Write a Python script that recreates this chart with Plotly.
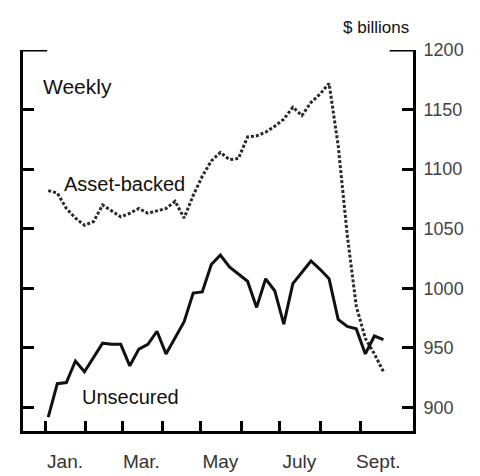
import pandas as pd
import plotly.graph_objects as go

# weekly observations, 2007 (Wednesdays)
weeks = pd.date_range("2007-01-03", periods=38, freq="7D")

asset_backed = [1082, 1080, 1067, 1059, 1053, 1056, 1070, 1065, 1060, 1063,
                1067, 1063, 1065, 1067, 1073, 1059, 1078, 1094, 1107, 1114,
                1108, 1109, 1127, 1128, 1131, 1136, 1142, 1152, 1145, 1156,
                1163, 1172, 1120, 1045, 985, 958, 945, 930]
unsecured = [892, 920, 921, 939, 930, 942, 954, 953, 953, 935,
             949, 953, 964, 945, 959, 972, 996, 997, 1020, 1028,
             1018, 1012, 1006, 984, 1008, 998, 970, 1004, 1014, 1023,
             1016, 1008, 974, 968, 966, 945, 960, 957]

month_starts = pd.date_range("2007-01-01", "2007-09-01", freq="MS")
label_dates = ["2007-01-16", "2007-03-16", "2007-05-16", "2007-07-16", "2007-09-15"]
label_text = ["Jan.", "Mar.", "May", "July", "Sept."]
y_ticks = [900, 950, 1000, 1050, 1100, 1150, 1200]

fig = go.Figure()
fig.add_trace(go.Scatter(x=weeks, y=asset_backed, mode="lines",
                         line=dict(color="#2a2a2a", width=3, dash="3px,2px")))
fig.add_trace(go.Scatter(x=weeks, y=unsecured, mode="lines",
                         line=dict(color="#111111", width=3)))

font = "Liberation Sans, Arial, sans-serif"

fig.update_layout(
    width=480, height=476,
    margin=dict(l=14, r=75, t=42, b=35),
    paper_bgcolor="white", plot_bgcolor="white",
    showlegend=False,
    font=dict(family=font, color="#222"),
    xaxis=dict(
        type="date",
        range=["2006-12-14 12:00", "2007-10-11 20:00"],
        showgrid=False, zeroline=False,
        showline=True, linecolor="black", linewidth=3,
        tickmode="array", tickvals=label_dates, ticktext=label_text,
        ticks="", ticklabelstandoff=11,
        tickfont=dict(size=19, color="#333"),
        minor=dict(tickmode="array", tickvals=month_starts, ticks="inside",
                   ticklen=10, tickwidth=3, tickcolor="black", showgrid=False),
    ),
    yaxis=dict(
        range=[880.3, 1200], side="right",
        showgrid=False, zeroline=False,
        showline=True, linecolor="black", linewidth=3, mirror="ticks",
        tickmode="array", tickvals=y_ticks,
        ticks="inside", ticklen=11, tickwidth=3, tickcolor="black",
        ticklabelstandoff=4,
        tickfont=dict(size=18, color="#444"),
    ),
)

# longer marks at the top corners
fig.add_shape(type="line", xref="paper", yref="y", x0=0, x1=0.062, y0=1200, y1=1200,
              line=dict(color="black", width=3))
fig.add_shape(type="line", xref="paper", yref="y", x0=0.94, x1=1, y0=1200, y1=1200,
              line=dict(color="black", width=3))

fig.add_annotation(text="Weekly", xref="paper", yref="paper", x=0.045, y=0.905,
                   xanchor="left", yanchor="middle", showarrow=False,
                   font=dict(size=21, color="#111"))
fig.add_annotation(text="Asset-backed", xref="paper", yref="paper", x=0.1, y=0.648,
                   xanchor="left", yanchor="middle", showarrow=False,
                   font=dict(size=20, color="#111"))
fig.add_annotation(text="Unsecured", xref="paper", yref="paper", x=0.147, y=0.09,
                   xanchor="left", yanchor="middle", showarrow=False,
                   font=dict(size=20, color="#111"))
fig.add_annotation(text="$ billions", xref="paper", yref="paper", x=0.995, y=1.058,
                   xanchor="right", yanchor="middle", showarrow=False,
                   font=dict(size=17, color="#111"))

fig.write_html("out.html")
